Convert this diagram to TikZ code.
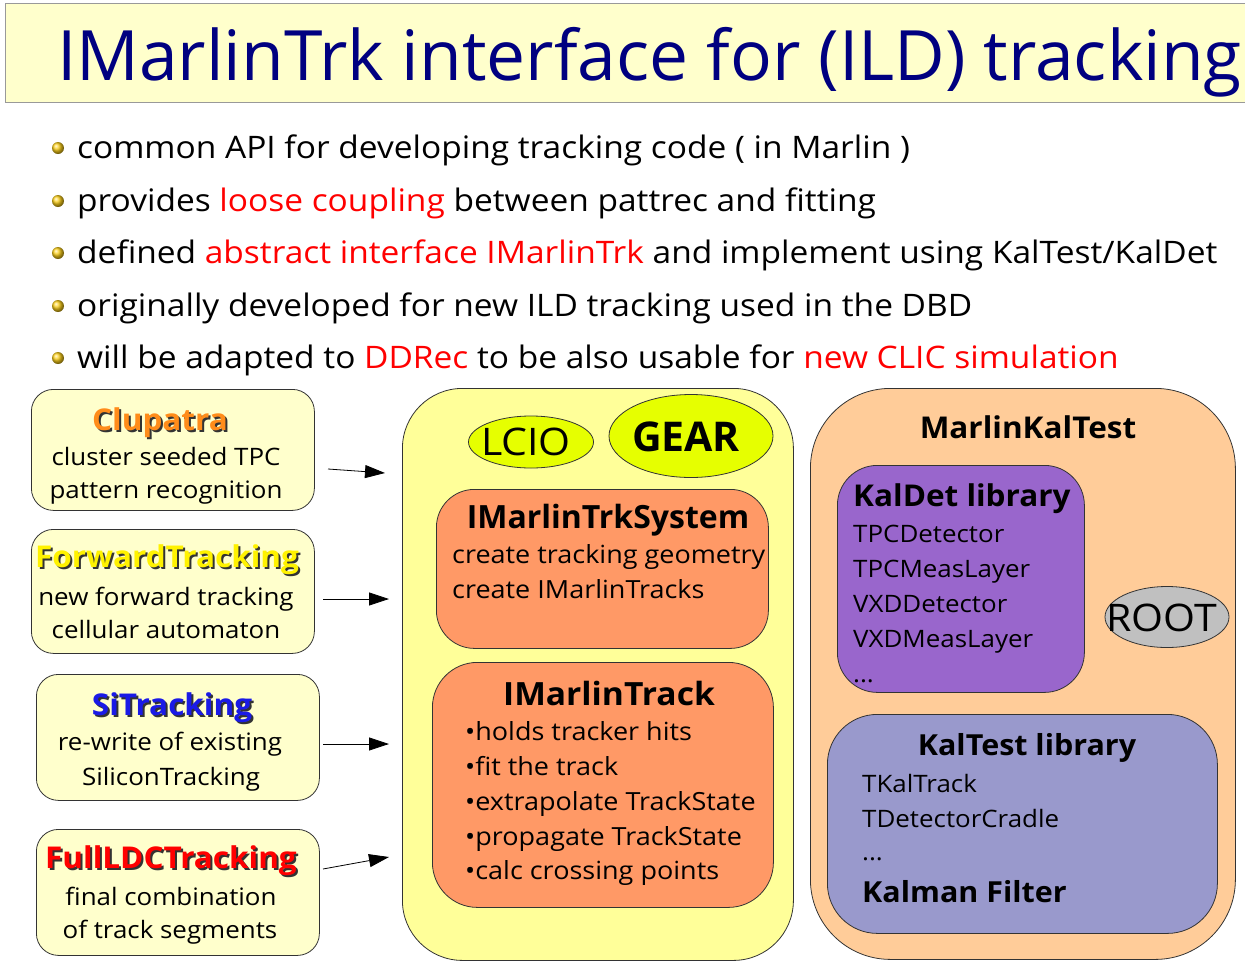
\documentclass[tikz,border=0pt]{standalone}
\usepackage{fontspec}
\setmainfont{Open Sans}[FakeStretch=1.08]
\newfontfamily\bfam{Open Sans}[FakeStretch=1.05]
\newfontfamily\tfam{Open Sans}
\usetikzlibrary{arrows.meta,shapes.geometric,shadings}
\definecolor{titlebg}{HTML}{FFFFCC}
\definecolor{titlefg}{HTML}{000080}
\definecolor{leftbg}{HTML}{FFFFCC}
\definecolor{midbg}{HTML}{FFFF99}
\definecolor{ellbg}{HTML}{E6FF00}
\definecolor{orbox}{HTML}{FF9966}
\definecolor{rightbg}{HTML}{FFCC99}
\definecolor{kaldet}{HTML}{9966CC}
\definecolor{kaltest}{HTML}{9999CC}
\definecolor{rootbg}{HTML}{C0C0C0}
\definecolor{cluorange}{HTML}{FF8C1A}
\definecolor{siblue}{HTML}{1A1AE6}
\definecolor{shadowc}{HTML}{333333}
\definecolor{bulc}{HTML}{FFD21A}
\newcommand\myfs[1]{\fontsize{#1}{#1}\selectfont}
\begin{document}
\begin{tikzpicture}[x=1pt,y=-1pt,
  rbox/.style={draw=black!80, line width=0.8pt, rounded corners=#1, anchor=north west, inner sep=0pt},
  txt/.style={anchor=base west, inner sep=0pt, font=\myfs{#1}},
  txtc/.style={anchor=base, inner sep=0pt, font=\myfs{#1}},
  btxt/.style={anchor=base west, inner sep=0pt, font=\bfam\bfseries\myfs{#1}},
  btxtc/.style={anchor=base, inner sep=0pt, font=\bfam\bfseries\myfs{#1}},
  ell/.style={ellipse, draw=black!80, line width=0.8pt, inner sep=0pt},
  arr/.style={-{Triangle[length=20pt,width=13pt]}, line width=0.8pt, black},
  bul/.style={ball color=bulc},
]
\useasboundingbox (0,0) rectangle (1245,962);
% title
\node[draw=black!40, fill=titlebg, line width=1pt, minimum width=1250, minimum height=99, anchor=north west, inner sep=0pt] (titlebox) at (5,3) {};
\node[anchor=base west, inner sep=0pt, font=\tfam\myfs{69.5}, text=titlefg] (title) at (57,80) {IMarlinTrk interface for (ILD) tracking};
% bullets
\foreach \yy in {148,201,253,306,358} \shade[bul] (58,\yy) circle (6);
\node[txt=31] (b1) at (77,158) {common API for developing tracking code ( in Marlin )};
\node[txt=31] (b2) at (77,211) {provides \textcolor{red}{loose coupling} between pattrec and fitting};
\node[txt=31] (b3) at (77,263) {defined \textcolor{red}{abstract interface IMarlinTrk} and implement using KalTest/KalDet};
\node[txt=31] (b4) at (77,316) {originally developed for new ILD tracking used in the DBD};
\node[txt=31] (b5) at (77,368) {will be adapted to \textcolor{red}{DDRec} to be also usable for \textcolor{red}{new CLIC simulation}};
% left boxes
\node[rbox=22pt, fill=leftbg, minimum width=283, minimum height=121] (clu) at (31,389) {};
\node[btxtc=30, text=shadowc] (clut-s) at (162,432) {Clupatra};
\node[btxtc=30, text=cluorange] (clut) at (160,430) {Clupatra};
\node[txtc=24] (clu1) at (166,465) {cluster seeded TPC};
\node[txtc=24] (clu2) at (166,498) {pattern recognition};

\node[rbox=22pt, fill=leftbg, minimum width=283, minimum height=124] (fwd) at (31,529) {};
\node[btxtc=30, text=shadowc] (fwdt-s) at (169,569) {ForwardTracking};
\node[btxtc=30, text=yellow] (fwdt) at (167,567) {ForwardTracking};
\node[txtc=24] (fwd1) at (166,605) {new forward tracking};
\node[txtc=24] (fwd2) at (166,638) {cellular automaton};

\node[rbox=22pt, fill=leftbg, minimum width=283, minimum height=126] (si) at (36,674) {};
\node[btxtc=30, text=shadowc] (sit-s) at (174,717) {SiTracking};
\node[btxtc=30, text=siblue] (sit) at (172,715) {SiTracking};
\node[txtc=24] (si1) at (170,750) {re-write of existing};
\node[txtc=24] (si2) at (171,785) {SiliconTracking};

\node[rbox=22pt, fill=leftbg, minimum width=283, minimum height=126] (ldc) at (36,829) {};
\node[btxtc=30, text=shadowc] (ldct-s) at (173,870) {FullLDCTracking};
\node[btxtc=30, text=red] (ldct) at (171,868) {FullLDCTracking};
\node[txtc=24] (ldc1) at (171,905) {final combination};
\node[txtc=24] (ldc2) at (170,938) {of track segments};

% middle
\node[rbox=60pt, fill=midbg, minimum width=391, minimum height=572] (mid) at (402,388) {};
\node[ell, fill=ellbg, minimum width=125, minimum height=52] (lcio) at (531,442) {};
\node[txtc=38] (lciot) at (526,455) {LCIO};
\node[ell, fill=ellbg, minimum width=164, minimum height=83] (gear) at (691,436) {};
\node[anchor=base, inner sep=0pt, font=\tfam\bfseries\myfs{41}] (geart) at (686,451) {GEAR};

\node[rbox=38pt, fill=orbox, minimum width=332, minimum height=159] (sys) at (436,489) {};
\node[anchor=base, inner sep=0pt, font=\tfam\bfseries\myfs{32}] (syst) at (608,528) {IMarlinTrkSystem};
\node[txt=25] (sys1) at (452,563) {create tracking geometry};
\node[txt=25] (sys2) at (452,598) {create IMarlinTracks};

\node[rbox=45pt, fill=orbox, minimum width=341, minimum height=245] (trk) at (432,662) {};
\node[btxtc=32] (trkt) at (609,705) {IMarlinTrack};
\node[txt=25] (trk1) at (465,740) {•holds tracker hits};
\node[txt=25] (trk2) at (465,775) {•fit the track};
\node[txt=25] (trk3) at (465,810) {•extrapolate TrackState};
\node[txt=25] (trk4) at (465,845) {•propagate TrackState};
\node[txt=25] (trk5) at (465,879) {•calc crossing points};

% right
\node[rbox=80pt, fill=rightbg, minimum width=425, minimum height=571] (mkt) at (810,388) {};
\node[btxtc=30] (mktt) at (1028,438) {MarlinKalTest};

\node[rbox=40pt, fill=kaldet, minimum width=247, minimum height=227] (kd) at (837,465) {};
\node[btxt=30] (kdt) at (853,506) {KalDet library};
\node[txt=24] (kd1) at (853,542) {TPCDetector};
\node[txt=24] (kd2) at (853,577) {TPCMeasLayer};
\node[txt=24] (kd3) at (853,612) {VXDDetector};
\node[txt=24] (kd4) at (853,647) {VXDMeasLayer};
\node[txt=24] (kd5) at (853,682) {...};

\node[ell, fill=rootbg, minimum width=124, minimum height=61] (root) at (1167,617) {};
\node[txtc=38] (roott) at (1162,631) {ROOT};

\node[rbox=50pt, fill=kaltest, minimum width=390, minimum height=219] (kt) at (827,714) {};
\node[btxtc=29] (ktt) at (1027,755) {KalTest library};
\node[txt=24] (kt1) at (862,792) {TKalTrack};
\node[txt=24] (kt2) at (862,827) {TDetectorCradle};
\node[txt=24] (kt3) at (862,860) {...};
\node[btxt=29] (kt4) at (862,902) {Kalman Filter};

% arrows
\coordinate (a1s) at (328,469); \coordinate (a1e) at (385,473);
\coordinate (a2s) at (323,599); \coordinate (a2e) at (389,599);
\coordinate (a3s) at (323,744); \coordinate (a3e) at (389,744);
\coordinate (a4s) at (323,869); \coordinate (a4e) at (389,857);
\draw[arr] (a1s) -- (a1e);
\draw[arr] (a2s) -- (a2e);
\draw[arr] (a3s) -- (a3e);
\draw[arr] (a4s) -- (a4e);
\end{tikzpicture}
\end{document}
